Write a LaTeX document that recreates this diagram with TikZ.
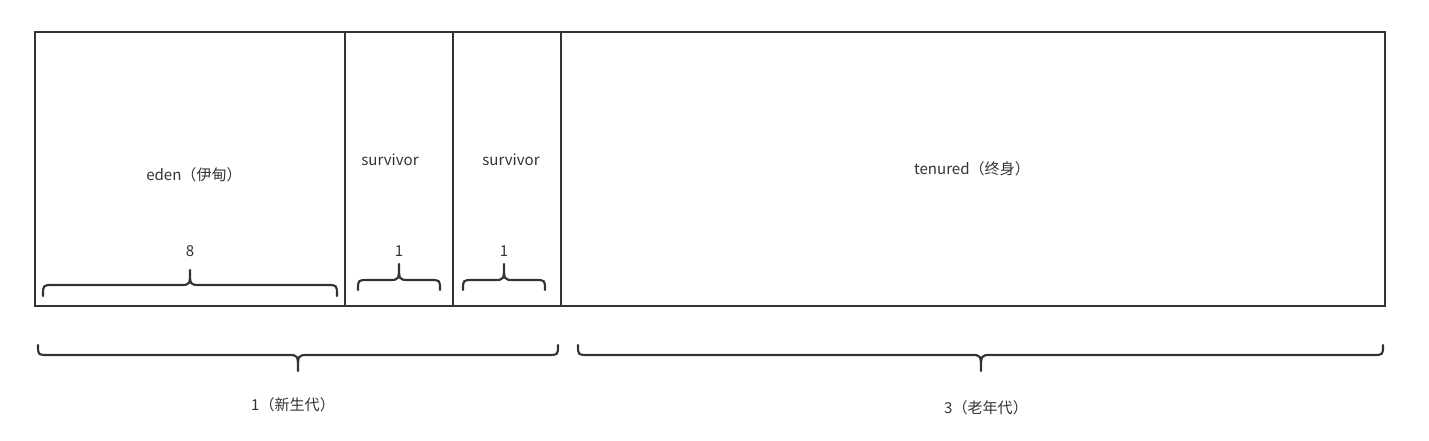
\documentclass[tikz,border=0pt]{standalone}
\usepackage{fontspec}
\setmainfont{Noto Sans CJK SC}
\definecolor{ink}{HTML}{333333}
\newcommand\curlybrace[6]{% x1, x2, xm, yend, yline, ytip
  \pgfmathsetmacro\ba{#1+10}\pgfmathsetmacro\bb{#3-10}%
  \pgfmathsetmacro\bc{#3+10}\pgfmathsetmacro\bd{#2-10}%
  \draw[bracestyle] (#1,#4) .. controls (#1,#5) .. (\ba,#5) -- (\bb,#5)
    .. controls (#3,#5) .. (#3,#6) .. controls (#3,#5) .. (\bc,#5) -- (\bd,#5)
    .. controls (#2,#5) .. (#2,#4);}
\begin{document}
\begin{tikzpicture}[x=0.75pt,y=-0.75pt,
  box/.style={draw=ink,line width=1.6pt},
  bracestyle/.style={draw=ink,line width=1.6pt,line cap=round,line join=round},
  lbl/.style={text=ink,font=\fontsize{11.3pt}{13pt}\selectfont,inner sep=0pt}]
\useasboundingbox (0,0) rectangle (1429,441);
\draw[box] (35,32) rectangle (1385,306);
\draw[box] (345,32) -- (345,306);
\draw[box] (453,32) -- (453,306);
\draw[box] (561,32) -- (561,306);
\node[lbl] (eden) at (194,175) {eden（伊甸）};
\node[lbl] (s1) at (390,160) {survivor};
\node[lbl] (s2) at (511,160) {survivor};
\node[lbl] (ten) at (972,169) {tenured（终身）};
\node[lbl] (n8) at (190,251) {8};
\node[lbl] (n1a) at (399,251) {1};
\node[lbl] (n1b) at (504,251) {1};
\curlybrace{43}{337}{190}{296}{285}{270}
\curlybrace{358}{440}{399}{290}{280}{264}
\curlybrace{463}{545}{504}{290}{280}{264}
\curlybrace{38}{558}{298}{345}{355}{371}
\curlybrace{578}{1383}{981}{345}{355}{371}
\node[lbl] (young) at (293,405) {1（新生代）};
\node[lbl] (old) at (986,408) {3（老年代）};
\end{tikzpicture}
\end{document}
